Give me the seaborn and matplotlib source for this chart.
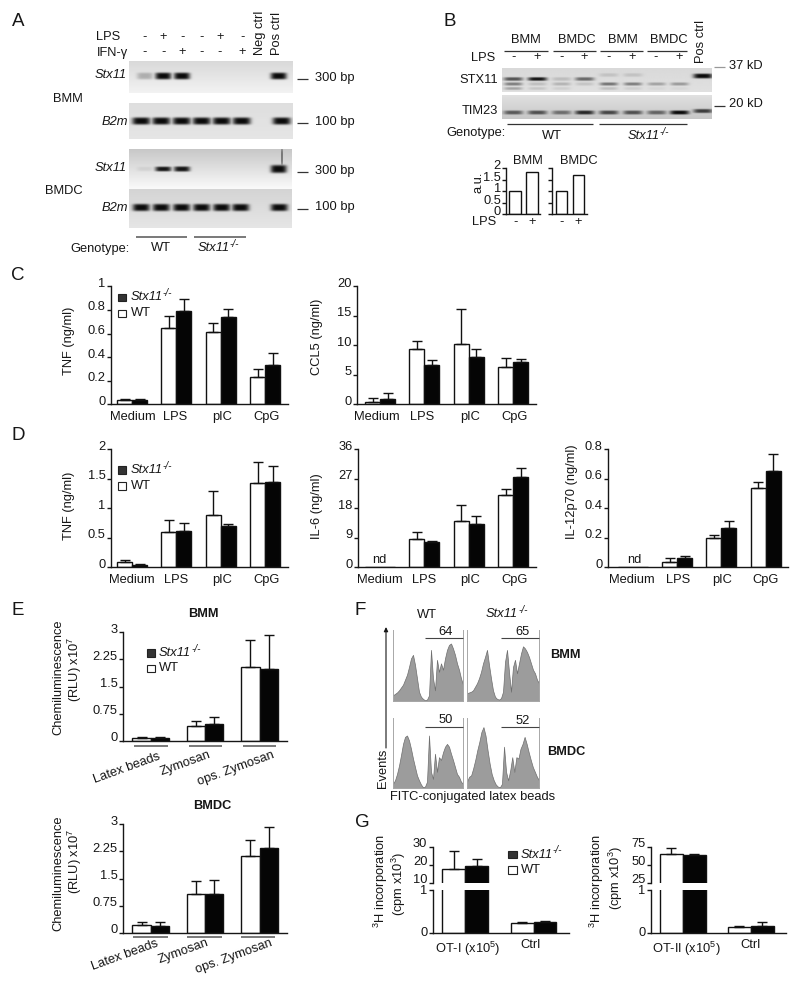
import numpy as np
import pandas as pd
import matplotlib
matplotlib.use("Agg")
import matplotlib.pyplot as plt
from matplotlib.patches import Rectangle
from matplotlib.transforms import Affine2D
import seaborn as sns

# ---------- data ----------
CAT_STIM = ["Medium", "LPS", "pIC", "CpG"]
CAT_PHAGO = ["Latex beads", "Zymosan", "ops. Zymosan"]

C_TNF_WT = [0.037, 0.644, 0.616, 0.232]
C_TNF_WT_TOP = [0.045, 0.751, 0.692, 0.300]
C_TNF_KO = [0.037, 0.788, 0.737, 0.336]
C_TNF_KO_TOP = [0.042, 0.895, 0.805, 0.432]

C_CCL5_WT = [0.4, 9.4, 10.3, 6.3]
C_CCL5_WT_TOP = [1.0, 10.7, 16.2, 7.85]
C_CCL5_KO = [0.9, 6.7, 8.1, 7.1]
C_CCL5_KO_TOP = [2.0, 7.5, 9.4, 7.6]

D_TNF_WT = [0.085, 0.605, 0.88, 1.424]
D_TNF_WT_TOP = [0.124, 0.80, 1.29, 1.79]
D_TNF_KO = [0.045, 0.61, 0.706, 1.452]
D_TNF_KO_TOP = [0.056, 0.757, 0.73, 1.718]

D_IL6_WT = [0, 8.5, 14.2, 22.0]
D_IL6_WT_TOP = [0, 10.7, 18.9, 23.8]
D_IL6_KO = [0, 7.7, 13.2, 27.5]
D_IL6_KO_TOP = [0, 8.0, 15.5, 30.2]

D_IL12_WT = [0, 0.034, 0.197, 0.536]
D_IL12_WT_TOP = [0, 0.063, 0.221, 0.576]
D_IL12_KO = [0, 0.066, 0.267, 0.653]
D_IL12_KO_TOP = [0, 0.075, 0.317, 0.766]

E_BMM_WT = [0.083, 0.415, 2.03]
E_BMM_WT_TOP = [0.11, 0.554, 2.80]
E_BMM_KO = [0.083, 0.452, 1.976]
E_BMM_KO_TOP = [0.11, 0.646, 2.92]

E_BMDC_WT = [0.204, 1.065, 2.13]
E_BMDC_WT_TOP = [0.287, 1.435, 2.555]
E_BMDC_KO = [0.194, 1.065, 2.35]
E_BMDC_KO_TOP = [0.287, 1.47, 2.925]

G1_WT = [18.1, 0.234]
G1_WT_TOP = [28.0, 0.258]
G1_KO = [19.8, 0.258]
G1_KO_TOP = [23.7, 0.28]
G2_WT = [65.3, 0.125]
G2_WT_TOP = [74.0, 0.156]
G2_KO = [64.8, 0.164]
G2_KO_TOP = [65.3, 0.242]

B_BMM_AU = [1.01, 1.855]
B_BMDC_AU = [1.0, 1.71]
LPS_SIGNS = ["-", "+"]

F_WT_BMM = [8, 10, 12, 15, 19, 23, 30, 37, 48, 60, 65, 51, 32, 13, 6, 3, 1, 2, 8, 72, 32, 15, 58, 41, 53, 44, 60, 72, 79, 81, 74, 65, 53, 44, 32, 23]
F_KO_BMM = [11, 12, 13, 15, 20, 25, 32, 41, 53, 62, 72, 51, 32, 15, 6, 3, 2, 4, 13, 55, 72, 41, 13, 48, 58, 39, 53, 67, 77, 74, 69, 62, 53, 44, 39, 30, 25]
F_WT_BMDC = [6, 11, 20, 32, 47, 63, 73, 75, 68, 56, 42, 30, 18, 11, 5, 1, 2, 9, 75, 23, 13, 49, 23, 44, 40, 51, 59, 63, 59, 49, 40, 30, 20, 16, 9, 6]
F_KO_BMDC = [9, 16, 18, 28, 40, 54, 66, 80, 87, 75, 54, 35, 20, 11, 5, 2, 1, 6, 59, 23, 11, 25, 44, 23, 44, 42, 56, 63, 73, 63, 51, 40, 30, 23, 16, 11]
F_PERCENT = ["64", "65", "50", "52"]

GEL1_STX11 = [0.25, 1, 1, 1]
GEL2_B2M = [1, 1, 1, 1, 1, 1, 1]
GEL3_STX11 = [0.07, 0.95, 0.95, 1]
GEL4_B2M = [1, 1, 1, 1, 1, 1, 1]
ROW_LPS = ["-", "+", "-", "-", "+", "-"]
ROW_IFN = ["-", "-", "+", "-", "-", "+"]
BLOT_UPPER = [0.65, 0.95, 0.15, 0.55, 0.12, 0.12, 0, 0, 1.0]
BLOT_MID = [0.45, 0.15, 0.2, 0.12, 0.5, 0.45, 0.28, 0.32, 0]
BLOT_LOW = [0.28, 0.12, 0.08, 0, 0.15, 0.08, 0.04, 0.04, 0]
BLOT_TIM23 = [0.6, 0.65, 0.5, 0.85, 0.7, 0.65, 0.55, 1.0, 0.75]

# ---------- style ----------
sns.set_style("ticks")
plt.rcParams["font.family"] = ["Liberation Sans", "DejaVu Sans"]
plt.rcParams["mathtext.fontset"] = "custom"
plt.rcParams["mathtext.rm"] = "Liberation Sans"
plt.rcParams["mathtext.it"] = "Liberation Sans:italic"
plt.rcParams["mathtext.bf"] = "Liberation Sans:bold"
plt.rcParams["mathtext.default"] = "regular"
INK = "#161616"
FS = 9.3
LETTER = 13.5
XPAD = 4.8

W, H = 800, 984
fig = plt.figure(figsize=(W / 100, H / 100), dpi=100, facecolor="white")


def axpx(l, t, r, b):
    return fig.add_axes([l / W, 1 - b / H, (r - l) / W, (b - t) / H])


ov = fig.add_axes([0, 0, 1, 1], zorder=20)
ov.set_xlim(0, W)
ov.set_ylim(H, 0)
ov.axis("off")


def T(x, y, s, ha="left", va="center", size=FS, **kw):
    return ov.text(x, y, s, ha=ha, va=va, fontsize=size, color=INK, **kw)


def KO(x, y):
    t = T(x, y, "Stx11", style="italic")
    ov.annotate("-/-", xy=(1.0, 0.42), xycoords=t, ha="left", va="bottom", fontsize=7.2,
                style="italic", color=INK)


def HL(x0, x1, y, color="#333333", lw=0.9):
    ov.plot([x0, x1], [y, y], color=color, lw=lw, solid_capstyle="butt")


def style_axis(ax, ylim, yticks, ylabels, dy=4.0, hide_bottom=False):
    ax.set_ylim(*ylim)
    ax.set_yticks(yticks)
    ax.set_yticklabels(ylabels)
    ax.set_xlabel("")
    ax.set_ylabel("")
    ax.patch.set_alpha(0)
    sns.despine(ax=ax, top=True, right=True, bottom=hide_bottom)
    for s in ax.spines.values():
        s.set_linewidth(1.0)
        s.set_color(INK)
    ax.tick_params(axis="y", length=2.6, width=1.0, pad=1.2, labelsize=FS, colors=INK)
    ax.tick_params(axis="x", length=0, pad=XPAD, labelsize=FS, colors=INK)
    for lab in ax.get_yticklabels():
        lab.set_transform(lab.get_transform() + Affine2D().translate(0, dy))


def grouped(rect, c0, step, group_px, cats, wt, ko, wt_top, ko_top, ylim, yticks, ylabels,
            label_dx=None, show_x=True, dy=4.0, hide_bottom=False):
    ax = axpx(*rect)
    df = pd.DataFrame({
        "group": list(cats) * 2,
        "value": list(wt) + list(ko),
        "genotype": ["WT"] * len(cats) + ["KO"] * len(cats),
    })
    sns.barplot(data=df, x="group", y="value", hue="genotype", hue_order=["WT", "KO"],
                order=list(cats), palette=["white", "#050505"], saturation=1,
                width=group_px / step, gap=0, edgecolor="#111111", linewidth=1.0,
                errorbar=None, legend=False, ax=ax)
    ax.set_xlim((rect[0] - c0) / step, (rect[2] - c0) / step)
    for cont, tops in zip(ax.containers, [wt_top, ko_top]):
        for bar, top in zip(cont, tops):
            v = bar.get_height()
            if top > 0 and top <= ylim[1] * 1.01 and v >= ylim[0]:
                ax.errorbar(bar.get_x() + bar.get_width() / 2, v, yerr=[[0], [top - v]],
                            color="#111111", elinewidth=1.0, capsize=3.6, capthick=1.0, zorder=5)
    style_axis(ax, ylim, yticks, ylabels, dy=dy, hide_bottom=hide_bottom)
    if show_x:
        ax.set_xticks(range(len(cats)))
        ax.set_xticklabels(cats)
        ax.tick_params(axis="x", length=0, pad=XPAD, labelsize=FS, colors=INK)
        if label_dx is not None:
            for lab, d in zip(ax.get_xticklabels(), label_dx):
                lab.set_transform(lab.get_transform() + Affine2D().translate(d, 0))
    else:
        ax.set_xticks([])
    return ax


def legend(x0, x1, tx, y1, y2):
    ov.add_patch(Rectangle((x0, y1 - 3.8), x1 - x0, 7.6, fc="#333333", ec="#222222", lw=0.8))
    KO(tx, y1)
    ov.add_patch(Rectangle((x0, y2 - 3.8), x1 - x0, 7.6, fc="white", ec="#222222", lw=0.8))
    T(tx, y2, "WT")


def gel(rect, top, bottom, bands):
    l, t, r, b = rect
    sc = 3
    w, h = int((r - l) * sc), int((b - t) * sc)
    xx, yy = np.meshgrid(l + (np.arange(w) + .5) / sc, t + (np.arange(h) + .5) / sc)
    bg = top + (bottom - top) * (yy - t) / (b - t)
    dark = np.zeros_like(bg)
    for x, y, hw, hh, i in bands:
        dark = np.maximum(dark, i * np.exp(-((xx - x) / hw) ** 4 - ((yy - y) / hh) ** 4))
    ax = axpx(l, t, r, b)
    ax.imshow(bg * (1 - dark) + 0.04 * dark, cmap="gray", vmin=0, vmax=1, aspect="auto",
              interpolation="bilinear")
    ax.axis("off")


# ---------- panel A ----------
T(18, 21, "A", ha="center", size=LETTER)
lane6 = [144.7, 163.3, 182.3, 202, 220, 242.3]
T(120, 37, "LPS", ha="right")
T(128, 53, "IFN-γ", ha="right", family=["Liberation Sans", "DejaVu Sans"])
for x, a, b in zip(lane6, ROW_LPS, ROW_IFN):
    T(x, 37, a, ha="center")
    T(x, 52, b, ha="center")
T(260, 55, "Neg ctrl", ha="center", va="bottom", rotation=90)
T(277, 55, "Pos ctrl", ha="center", va="bottom", rotation=90)

gel((129, 61, 293, 93), 0.85, 0.95,
    [(x, 76, 8, 3.4, i) for x, i in zip([145, 163.3, 182, 278.7], GEL1_STX11)])
gel((129, 103, 293, 139), 0.87, 0.90,
    [(x, 121, 9, 3.6, i) for x, i in zip([141.3, 161.3, 181.7, 201.7, 221.7, 241.7, 281.7], GEL2_B2M)])
gel((129, 149, 292, 189), 0.78, 0.98,
    [(x, 169, 8, hh, i) for x, hh, i in zip([145, 163.3, 182, 278.7], [2.2, 2.4, 2.6, 4.0], GEL3_STX11)]
    + [(282, 157, 0.6, 9, 0.8)])
gel((129, 189, 292, 228), 0.83, 0.90,
    [(x, 207.5, 8.5, 3.6, i) for x, i in zip([141.3, 161.3, 181.7, 201.7, 221.7, 240.7, 279.3], GEL4_B2M)])

T(126.7, 75.5, "Stx11", ha="right", style="italic")
T(127.7, 121.7, "B2m", ha="right", style="italic")
T(126.7, 167.7, "Stx11", ha="right", style="italic")
T(127.7, 208, "B2m", ha="right", style="italic")
T(52.7, 99, "BMM")
T(45, 190.7, "BMDC")
for yl, yt, s in [(79, 77.7, "300 bp"), (123.3, 122, "100 bp"), (172, 170.7, "300 bp"), (209, 207.3, "100 bp")]:
    HL(296.7, 308, yl)
    T(315, yt, s)
T(70, 249, "Genotype:")
T(161, 248, "WT", ha="center")
KO(197.7, 248)
HL(135.7, 186.7, 236.7, color="#555555", lw=1.1)
HL(194, 245.7, 236.7, color="#555555", lw=1.1)

# ---------- panel B ----------
T(450, 21, "B", ha="center", size=LETTER)
for x, s in zip([526, 577.3, 622.7, 669.3], ["BMM", "BMDC", "BMM", "BMDC"]):
    T(x, 40, s, ha="center")
for a, b in [(504.3, 547.7), (552.7, 596), (600, 642.7), (646.7, 687.3)]:
    HL(a, b, 51)
T(495, 58, "LPS", ha="right")
for x, s in zip([513.3, 537.3, 561.3, 584.3, 608.3, 632.3, 656, 678.7], LPS_SIGNS * 4):
    T(x, 57, s, ha="center")
T(701, 63, "Pos ctrl", ha="center", va="bottom", rotation=90)
lane9 = [513.3, 537.3, 561.3, 584.3, 608.3, 632.3, 656, 678.7, 702]
blot_bands = []
for i, (x, u, m, lo) in enumerate(zip(lane9, BLOT_UPPER, BLOT_MID, BLOT_LOW)):
    y_u = 76 if i == 8 else (75 if i in (4, 5) else 79)
    blot_bands += [(x, y_u, 9.5, 2.4 if i == 8 else 1.8, u), (x, 84, 9, 1.6, m), (x, 88.5, 9, 1.4, lo)]
gel((502, 68, 711, 92), 0.85, 0.88, blot_bands)
gel((502, 95, 711, 119), 0.88, 0.78,
    [(x, 111 if i == 8 else 112.5, 9.5, 2.0, v) for i, (x, v) in enumerate(zip(lane9, BLOT_TIM23))])
HL(714, 725, 67, color="#999999")
T(729.3, 65.7, "37 kD")
HL(714, 725, 106)
T(729.3, 104, "20 kD")
T(459.3, 80, "STX11")
T(461.3, 110.7, "TIM23")
T(446.7, 133.3, "Genotype:")
T(551.7, 136, "WT", ha="center")
KO(627.7, 136)
HL(507.3, 593.3, 124)
HL(599.3, 687.3, 124)

for rect, c0, vals, labs in [((506.3, 168.3, 540, 214.3), 515, B_BMM_AU, ["0", "0.5", "1", "1.5", "2"]),
                             ((552.3, 168.3, 586.7, 214.3), 561.5, B_BMDC_AU, ["", "", "", "", ""])]:
    a = axpx(*rect)
    sns.barplot(x=LPS_SIGNS, y=vals, color="white", saturation=1, width=0.66, edgecolor="#111111",
                linewidth=1.0, errorbar=None, ax=a)
    step = 17.0
    a.set_xlim((rect[0] - c0) / step, (rect[2] - c0) / step)
    style_axis(a, (0, 2), [0, 0.5, 1, 1.5, 2], labs, dy=3.7)
    a.set_xticks([])
T(479, 182, "a.u.", ha="center", rotation=90)
T(528, 161, "BMM", ha="center")
T(579.3, 161, "BMDC", ha="center")
T(496, 222, "LPS", ha="right")
for x, s in zip([515.7, 532, 561.3, 578.3], LPS_SIGNS * 2):
    T(x, 222.5, s, ha="center")

# ---------- panel C ----------
T(18, 275, "C", ha="center", size=LETTER)
grouped((110.7, 286.3, 288, 404.3), 132, 44.4, 30, CAT_STIM, C_TNF_WT, C_TNF_KO, C_TNF_WT_TOP, C_TNF_KO_TOP,
        (0, 1), [0, .2, .4, .6, .8, 1], ["0", "0.2", "0.4", "0.6", "0.8", "1"], label_dx=[0.7, -1.3, 1.7, 1.5])
T(69, 341, "TNF (ng/ml)", ha="center", rotation=90)
legend(117.7, 125.7, 130.7, 297.3, 313.5)
grouped((357, 286.3, 535.7, 404.3), 380, 44.4, 30, CAT_STIM, C_CCL5_WT, C_CCL5_KO, C_CCL5_WT_TOP, C_CCL5_KO_TOP,
        (0, 20), [0, 5, 10, 15, 20], ["0", "5", "10", "15", "20"], label_dx=[-3, -2, 1, 1])
T(317.3, 336.7, "CCL5 (ng/ml)", ha="center", rotation=90)

# ---------- panel D ----------
T(18, 436, "D", ha="center", size=LETTER)
grouped((110.7, 449.3, 288, 567.3), 132, 44.4, 30, CAT_STIM, D_TNF_WT, D_TNF_KO, D_TNF_WT_TOP, D_TNF_KO_TOP,
        (0, 2), [0, .5, 1, 1.5, 2], ["0", "0.5", "1", "1.5", "2"], label_dx=[0.3, -0.5, 1.7, 1.5])
T(69, 505.7, "TNF (ng/ml)", ha="center", rotation=90)
legend(117.7, 125.7, 130.7, 470, 486)
grouped((358, 449.3, 535.7, 567.3), 380, 44.4, 30, CAT_STIM, D_IL6_WT, D_IL6_KO, D_IL6_WT_TOP, D_IL6_KO_TOP,
        (0, 36), [0, 9, 18, 27, 36], ["0", "9", "18", "27", "36"], label_dx=[0, -0.5, 1, 1])
T(317, 505.7, "IL-6 (ng/ml)", ha="center", rotation=90)
T(379.3, 560, "nd", ha="center")
grouped((607.7, 449.3, 788, 567.3), 633, 44.2, 30, CAT_STIM, D_IL12_WT, D_IL12_KO, D_IL12_WT_TOP, D_IL12_KO_TOP,
        (0, 0.8), [0, .2, .4, .6, .8], ["0", "0.2", "0.4", "0.6", "0.8"], label_dx=[-1.5, 1, 1, 0])
T(572.3, 491.7, "IL-12p70 (ng/ml)", ha="center", rotation=90)
T(634.3, 560, "nd", ha="center")

# ---------- panel E ----------
T(18, 610.7, "E", ha="center", size=LETTER)
T(203, 614, "BMM", ha="center", weight="bold", size=9.2)
T(212.7, 806, "BMDC", ha="center", weight="bold", size=9.2)
E_TICKS = [0, .75, 1.5, 2.25, 3]
E_LABELS = ["0", "0.75", "1.5", "2.25", "3"]
grouped((122.7, 632.3, 286.7, 740.7), 150.7, 54.4, 36.7, CAT_PHAGO, E_BMM_WT, E_BMM_KO, E_BMM_WT_TOP, E_BMM_KO_TOP,
        (0, 3), E_TICKS, E_LABELS, show_x=False)
grouped((122.7, 824.3, 286.7, 932.7), 150.7, 54.4, 36.7, CAT_PHAGO, E_BMDC_WT, E_BMDC_KO, E_BMDC_WT_TOP, E_BMDC_KO_TOP,
        (0, 3), E_TICKS, E_LABELS, show_x=False)
T(58.7, 677.7, "Chemiluminescence", ha="center", rotation=90)
T(75, 669, "(RLU) x10$^{7}$", ha="center", rotation=90)
T(58.7, 873.3, "Chemiluminescence", ha="center", rotation=90)
T(75, 861.7, "(RLU) x10$^{7}$", ha="center", rotation=90)
legend(147, 155, 159, 652.7, 668.3)
for y, seg in [(746.3, [(134, 167.7), (188.7, 222), (242.7, 276)]), (937, [(133.3, 167.7), (187.3, 221.7), (241.3, 275.3)])]:
    for a, b in seg:
        HL(a, b, y, color="#555555", lw=1.1)
for pts in [[(160, 755.7), (210.7, 754.3), (274, 754.3)], [(158, 943.3), (208.3, 942.7), (272.3, 942.7)]]:
    for (x, y), s in zip(pts, CAT_PHAGO):
        T(x, y, s, ha="right", rotation=20, rotation_mode="anchor")

# ---------- panel F ----------
T(360, 610.7, "F", ha="center", size=LETTER)
T(427, 615, "WT", ha="center")
KO(486, 614)
T(565, 654.5, "BMM", ha="center", weight="bold", size=9.2)
T(566, 752, "BMDC", ha="center", weight="bold", size=9.2)
T(472.7, 797, "FITC-conjugated latex beads", ha="center")
T(383, 768, "Events", ha="center", rotation=90)
ov.annotate("", xy=(386, 627), xytext=(386, 748),
            arrowprops=dict(arrowstyle="-|>,head_width=0.12,head_length=0.25", lw=0.8, color=INK, shrinkA=0, shrinkB=0))
for rect, prof, pct, gate in [((393, 630, 463, 701), F_WT_BMM, F_PERCENT[0], (425, 463, 638, 446, 632)),
                              ((467, 630, 539, 701), F_KO_BMM, F_PERCENT[1], (501, 539, 638, 522.3, 632)),
                              ((393, 718, 463, 788), F_WT_BMDC, F_PERCENT[2], (425, 463, 727, 446, 720)),
                              ((467, 718, 539, 788), F_KO_BMDC, F_PERCENT[3], (501, 539, 727, 522.3, 721))]:
    a = axpx(*rect)
    n = len(prof)
    sns.histplot(x=np.arange(n) + .5, weights=prof, bins=n, binrange=(0, n), element="poly", fill=True,
                 color="#9c9c9c", edgecolor="#6e6e6e", linewidth=0.5, alpha=1, ax=a)
    a.set_xlim(0.5, n - 0.5)
    a.set_ylim(0, 100)
    a.set_xticks([])
    a.set_yticks([])
    a.set_xlabel("")
    a.set_ylabel("")
    a.spines["top"].set_visible(False)
    for k in ("left", "right", "bottom"):
        a.spines[k].set_color("#a8a8a8")
        a.spines[k].set_linewidth(0.7)
    HL(gate[0], gate[1], gate[2], color="#444444", lw=0.8)
    T(gate[3], gate[4], pct, ha="center")

# ---------- panel G ----------
T(362, 822.7, "G", ha="center", size=LETTER)
CAT_G1 = ["OT-I (x10$^{5}$)", "Ctrl"]
CAT_G2 = ["OT-II (x10$^{5}$)", "Ctrl"]
grouped((432.7, 847.3, 569, 883.3), 465.3, 68.2, 45.8, CAT_G1, G1_WT, G1_KO, G1_WT_TOP, G1_KO_TOP,
        (10, 30), [10, 20, 30], ["10", "20", "30"], show_x=False, dy=4.5, hide_bottom=True)
grouped((432.7, 890, 569, 932.7), 465.3, 68.2, 45.8, CAT_G1, G1_WT, G1_KO, G1_WT_TOP, G1_KO_TOP,
        (0, 1), [0, 1], ["0", "1"], label_dx=[2, -2.7], dy=1)
grouped((650.7, 847.3, 785.7, 883.3), 682.7, 68, 45.8, CAT_G2, G2_WT, G2_KO, G2_WT_TOP, G2_KO_TOP,
        (25, 75), [25, 50, 75], ["25", "50", "75"], show_x=False, dy=4.5, hide_bottom=True)
grouped((650.7, 890, 785.7, 932.7), 682.7, 68, 45.8, CAT_G2, G2_WT, G2_KO, G2_WT_TOP, G2_KO_TOP,
        (0, 1), [0, 1], ["0", "1"], label_dx=[3.3, -0.7], dy=1)
T(380.5, 881, "$^{3}$H incorporation", ha="center", rotation=90)
T(399, 884, "(cpm x10$^{3}$)", ha="center", rotation=90)
T(597, 881, "$^{3}$H incorporation", ha="center", rotation=90)
T(615.5, 878, "(cpm x10$^{3}$)", ha="center", rotation=90)
legend(508.3, 516.7, 520.7, 854.5, 870)

fig.savefig("out.png", dpi=100, facecolor="white")
